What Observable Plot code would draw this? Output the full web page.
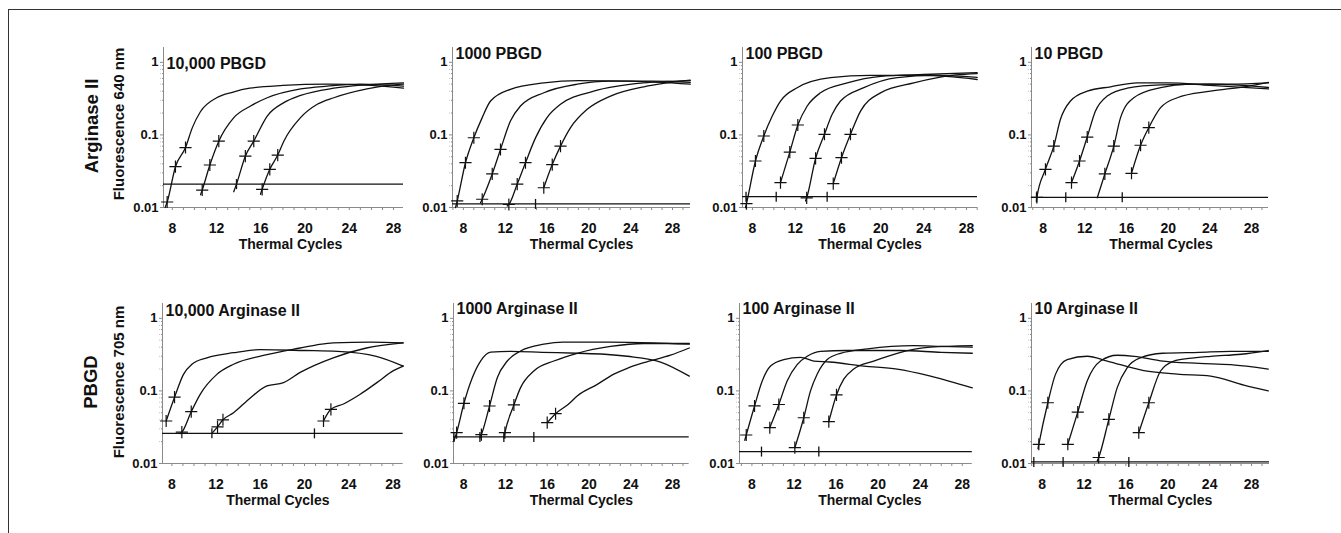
<!DOCTYPE html>
<html>
<head>
<meta charset="utf-8">
<script src="https://cdn.jsdelivr.net/npm/d3@7"></script>
<script src="https://cdn.jsdelivr.net/npm/@observablehq/plot@0.6"></script>
<style>
  html, body { margin: 0; padding: 0; background: #fff; }
  #root { position: relative; width: 1341px; height: 533px; overflow: hidden; font-family: "Liberation Sans", Arial, sans-serif; color: #111; }
  .frame { position: absolute; left: 8px; top: 9px; right: -5px; bottom: -5px; border-left: 1.5px solid #333; border-top: 1.5px solid #333; }
  .rot { position: absolute; transform: translate(-50%, -50%) rotate(-90deg); white-space: nowrap; font-weight: bold; }
  .panel { position: absolute; }
</style>
</head>
<body>
<div id="root"><div class="frame"></div></div>
<script>
// ---------------- data ----------------
const titles = ["10,000 PBGD", "1000 PBGD", "100 PBGD", "10 PBGD",
                "10,000 Arginase II", "1000 Arginase II", "100 Arginase II", "10 Arginase II"];
const rowLabels = ["Arginase II", "PBGD"];
const yAxisLabels = ["Fluorescence 640 nm", "Fluorescence 705 nm"];
const xAxisLabel = "Thermal Cycles";
const xTicks = [8, 12, 16, 20, 24, 28];
const yTicks = [0.01, 0.1, 1];
const yTickLabels = ["0.01", "0.1", "1"];
const thresholds = [0.021, 0.0112, 0.0141, 0.0138, 0.026, 0.0232, 0.0146, 0.0105];

// top row: Arginase II detection (640 nm)
const pbgd10000Lines = [
  [[7.35,0.0100],[7.53,0.0119],[8.28,0.0365],[9.19,0.067],[9.8,0.125],[10.55,0.21],[12,0.325],[13.5,0.39],[15,0.44],[18,0.48],[22,0.50],[26,0.48],[28.9,0.44]],
  [[10.55,0.015],[10.7,0.0174],[11.39,0.0385],[12.2,0.082],[13.56,0.173],[15.07,0.25],[16.58,0.325],[19.6,0.43],[22,0.47],[25,0.50],[28.9,0.47]],
  [[13.55,0.0165],[13.8,0.021],[14.6,0.051],[15.36,0.082],[16.58,0.182],[18.08,0.278],[19.6,0.35],[22.6,0.44],[25.5,0.49],[28.9,0.52]],
  [[15.97,0.0152],[16.12,0.0178],[16.81,0.0336],[17.53,0.0528],[18.08,0.082],[19.59,0.173],[21.1,0.264],[22.6,0.325],[25.6,0.43],[27.5,0.48],[28.9,0.50]]
];
const pbgd10000Crosses = [[7.53,0.0119],[8.28,0.0365],[9.19,0.067],[10.7,0.0174],[11.39,0.0385],[12.2,0.082],[14.6,0.051],[15.36,0.082],[16.12,0.0178],[16.81,0.0336],[17.53,0.0528]];
const pbgd10000Marks = [13.8];

const pbgd1000Lines = [
  [[7.25,0.0100],[7.41,0.0123],[8.2,0.0414],[9.0,0.0914],[9.8,0.173],[10.6,0.293],[12.5,0.425],[15.7,0.52],[19,0.56],[24,0.55],[29.7,0.50]],
  [[9.64,0.0116],[9.8,0.013],[10.76,0.029],[11.55,0.063],[12.5,0.155],[13.46,0.25],[15.7,0.381],[18.9,0.50],[22,0.55],[26,0.55],[29.7,0.53]],
  [[12.19,0.0105],[12.35,0.011],[13.15,0.021],[13.94,0.0414],[14.9,0.091],[16.0,0.173],[17.29,0.264],[20.47,0.40],[25.2,0.52],[29.7,0.56]],
  [[15.69,0.0187],[16.5,0.039],[17.29,0.070],[18.25,0.126],[19.84,0.225],[22.07,0.343],[25.26,0.46],[27.5,0.52],[29.7,0.57]]
];
const pbgd1000Crosses = [[7.41,0.0123],[8.2,0.0414],[9.0,0.0914],[9.8,0.013],[10.76,0.029],[11.55,0.063],[12.35,0.011],[13.15,0.021],[13.94,0.0414],[15.69,0.0187],[16.5,0.039],[17.29,0.070]];
const pbgd1000Marks = [14.9];

const pbgd100Lines = [
  [[7.35,0.0100],[7.44,0.0113],[8.28,0.0437],[9.06,0.0966],[9.85,0.182],[10.62,0.293],[12.18,0.447],[15.3,0.614],[19,0.66],[24,0.66],[29.0,0.58]],
  [[10.62,0.022],[11.49,0.058],[12.24,0.137],[13.12,0.25],[14.36,0.38],[16.86,0.52],[20,0.64],[24,0.68],[29.0,0.72]],
  [[12.96,0.0123],[13.07,0.0136],[13.9,0.0476],[14.73,0.102],[15.45,0.192],[16.23,0.293],[18.41,0.447],[21.53,0.614],[25,0.66],[29.0,0.62]],
  [[15.55,0.0213],[16.32,0.0485],[17.16,0.102],[18.1,0.213],[19.97,0.38],[23.08,0.52],[25.3,0.614],[27,0.67],[29.0,0.70]]
];
const pbgd100Crosses = [[7.44,0.0113],[8.28,0.0437],[9.06,0.0966],[10.62,0.022],[11.49,0.058],[12.24,0.137],[13.07,0.0136],[13.9,0.0476],[14.73,0.102],[15.55,0.0213],[16.32,0.0485],[17.16,0.102]];
const pbgd100Marks = [7.4, 10.22, 14.98];

const pbgd10Lines = [
  [[7.36,0.0123],[7.4,0.0138],[8.22,0.0336],[9.02,0.070],[9.66,0.164],[10.62,0.293],[12.23,0.40],[14.47,0.46],[17.03,0.52],[20,0.52],[24,0.48],[29.63,0.43]],
  [[10.72,0.022],[11.49,0.0437],[12.23,0.0935],[13.02,0.213],[14.15,0.343],[16.07,0.44],[19.27,0.49],[24,0.50],[29.63,0.45]],
  [[13.19,0.0136],[13.92,0.029],[14.78,0.070],[15.43,0.173],[16.7,0.325],[19.27,0.447],[22,0.50],[26,0.50],[29.63,0.52]],
  [[16.48,0.0296],[17.35,0.072],[18.14,0.126],[19.27,0.237],[20.87,0.325],[24.07,0.40],[27.27,0.46],[29.63,0.53]]
];
const pbgd10Crosses = [[7.4,0.0138],[8.22,0.0336],[9.02,0.070],[10.72,0.022],[11.49,0.0437],[12.23,0.0935],[13.92,0.029],[14.78,0.070],[16.48,0.0296],[17.35,0.072],[18.14,0.126]];
const pbgd10Marks = [7.36, 10.17, 15.59];

// bottom row: PBGD detection (705 nm)
const arg10000Lines = [
  [[7.48,0.0385],[8.24,0.082],[9.05,0.169],[9.81,0.233],[11.17,0.286],[13.58,0.336],[16,0.37],[20,0.36],[23,0.35],[26.5,0.30],[28.93,0.22]],
  [[8.75,0.0258],[8.9,0.027],[9.75,0.0517],[10.56,0.0898],[12.07,0.169],[13.58,0.233],[16.6,0.315],[19.61,0.39],[21.1,0.43],[22.6,0.46],[26,0.47],[28.93,0.46]],
  [[11.62,0.026],[12.13,0.032],[12.62,0.040],[13.58,0.050],[15.09,0.080],[16.6,0.117],[18.1,0.13],[19.61,0.18],[22.6,0.286],[25.6,0.39],[28.93,0.46]],
  [[21.72,0.0385],[22.39,0.0557],[23.53,0.066],[25.04,0.0898],[26.55,0.13],[28.05,0.19],[28.93,0.22]]
];
const arg10000Crosses = [[7.48,0.0385],[8.24,0.082],[8.9,0.027],[9.75,0.0517],[12.13,0.032],[12.62,0.040],[21.72,0.0385],[22.39,0.0557]];
const arg10000Marks = [11.62, 20.9];

const arg1000Lines = [
  [[7.07,0.0204],[7.33,0.0266],[8.03,0.0675],[8.83,0.152],[9.62,0.258],[10.58,0.343],[12.5,0.35],[15.5,0.34],[18.9,0.33],[21.5,0.32],[23.66,0.30],[26.85,0.25],[29.6,0.16]],
  [[9.56,0.0225],[9.7,0.025],[10.48,0.0619],[11.22,0.152],[12.18,0.258],[13.45,0.355],[15.68,0.44],[17.5,0.47],[22,0.47],[26,0.46],[29.6,0.44]],
  [[11.85,0.0225],[11.95,0.0266],[12.81,0.064],[13.45,0.111],[14.72,0.188],[16.64,0.258],[18.87,0.33],[22.06,0.41],[25.25,0.45],[29.6,0.45]],
  [[16.0,0.0365],[16.8,0.0485],[18.0,0.065],[18.87,0.085],[20.79,0.123],[22.38,0.170],[23.66,0.205],[25.25,0.245],[27.8,0.31],[29.6,0.39]]
];
const arg1000Crosses = [[7.33,0.0266],[8.03,0.0675],[9.7,0.025],[10.48,0.0619],[11.95,0.0266],[12.81,0.064],[16.0,0.0365],[16.8,0.0485]];
const arg1000Marks = [7.07, 9.56, 11.85, 14.72];

const arg100Lines = [
  [[7.32,0.0209],[7.46,0.0247],[8.25,0.062],[8.98,0.137],[9.77,0.22],[11.03,0.27],[12.62,0.29],[13.88,0.258],[15.4,0.25],[18.64,0.22],[21.81,0.20],[24.98,0.16],[28.95,0.11]],
  [[9.7,0.0311],[10.56,0.065],[11.35,0.137],[12.3,0.23],[13.26,0.30],[14.52,0.35],[17,0.36],[22,0.36],[26,0.34],[28.95,0.33]],
  [[12.08,0.0165],[12.93,0.0427],[13.57,0.10],[14.2,0.17],[15.16,0.27],[16.42,0.33],[19,0.38],[23.4,0.42],[26,0.41],[28.95,0.40]],
  [[15.31,0.0377],[16.04,0.088],[16.73,0.145],[17.68,0.20],[19.58,0.258],[21.81,0.33],[24.98,0.40],[28.95,0.42]]
];
const arg100Crosses = [[7.46,0.0247],[8.25,0.062],[9.7,0.0311],[10.56,0.065],[12.08,0.0165],[12.93,0.0427],[15.31,0.0377],[16.04,0.088]];
const arg100Marks = [8.91, 14.36];

const arg10Lines = [
  [[7.6,0.016],[7.68,0.0184],[8.54,0.0687],[9.27,0.169],[10.39,0.27],[12.3,0.30],[14.21,0.258],[17.71,0.19],[20.9,0.17],[24.1,0.16],[27.27,0.12],[29.6,0.10]],
  [[10.45,0.0184],[11.4,0.051],[12.3,0.137],[13.57,0.258],[15.17,0.31],[16.8,0.30],[19.3,0.26],[23,0.24],[26,0.23],[29.6,0.20]],
  [[13.26,0.0108],[13.4,0.0121],[14.37,0.0406],[15.17,0.111],[16.13,0.209],[17.4,0.286],[19.5,0.33],[23,0.34],[26,0.35],[29.6,0.35]],
  [[17.23,0.0266],[18.19,0.0687],[19.31,0.188],[20.58,0.258],[22,0.28],[24.1,0.30],[27,0.32],[29.6,0.36]]
];
const arg10Crosses = [[7.68,0.0184],[8.54,0.0687],[10.45,0.0184],[11.4,0.051],[13.4,0.0121],[14.37,0.0406],[17.23,0.0266],[18.19,0.0687]];
const arg10Marks = [7.2, 10.0, 16.28];

// ---------------- layout (positions / styles only) ----------------
const layout = [
  {left: 163,   top: 46.5,  w: 240,   xd: [7.2, 28.9],   labelDx: 7,  titleDy: 10},
  {left: 452,   top: 46.5,  w: 238,   xd: [6.96, 29.72], labelDx: 10, titleDy: 0},
  {left: 742,   top: 46.5,  w: 235,   xd: [7.07, 29.03], labelDx: 10, titleDy: 0},
  {left: 1031,  top: 46.5,  w: 237,   xd: [6.88, 29.63], labelDx: 11, titleDy: 0},
  {left: 162.3, top: 302.5, w: 240.7, xd: [7.15, 28.93], labelDx: -5, titleDy: 1},
  {left: 452.9, top: 302.5, w: 235.7, xd: [7.03, 29.59], labelDx: 10, titleDy: -1},
  {left: 739,   top: 302.5, w: 232.8, xd: [6.82, 28.95], labelDx: 14, titleDy: -1},
  {left: 1031,  top: 302.5, w: 238,   xd: [6.98, 29.72], labelDx: 10, titleDy: -1}
];
const panelData = [
  [pbgd10000Lines, pbgd10000Crosses, pbgd10000Marks],
  [pbgd1000Lines, pbgd1000Crosses, pbgd1000Marks],
  [pbgd100Lines, pbgd100Crosses, pbgd100Marks],
  [pbgd10Lines, pbgd10Crosses, pbgd10Marks],
  [arg10000Lines, arg10000Crosses, arg10000Marks],
  [arg1000Lines, arg1000Crosses, arg1000Marks],
  [arg100Lines, arg100Crosses, arg100Marks],
  [arg10Lines, arg10Crosses, arg10Marks]
];

const FONT = '"Liberation Sans", Arial, Helvetica, sans-serif';
const INK = "#111";
const AXIS = "#8a8a8a";
const ML = 52, MR = 8, MT = 6, MB = 60, FH = 160;
const Y_DOMAIN = [0.01, 1.6];

// minor log ticks (2..9 × 10^k)
const yMinor = [];
for (const base of [0.01, 0.1]) for (let k = 2; k <= 9; k++) yMinor.push(+(base * k).toFixed(3));

const vbar = {
  draw(ctx, size) { const r = Math.sqrt(size / Math.PI); ctx.moveTo(0, -r); ctx.lineTo(0, r); }
};

const root = document.getElementById("root");

panelData.forEach(([lines, crosses, marks], i) => {
  const L = layout[i];
  const rows = lines.flatMap((curve, s) => curve.map(([c, v]) => ({s, c, v})));
  const thr = thresholds[i];
  const markRows = marks.map(c => ({c, v: thr}));
  const xMinor = d3.range(Math.ceil(L.xd[0]), Math.floor(L.xd[1]) + 1);

  const chart = Plot.plot({
    width: ML + L.w + MR,
    height: MT + FH + MB,
    marginLeft: ML, marginRight: MR, marginTop: MT, marginBottom: MB,
    x: {domain: L.xd},
    y: {type: "log", domain: Y_DOMAIN},
    style: {background: "transparent", fontFamily: FONT, fontWeight: "bold", color: INK, overflow: "visible"},
    marks: [
      Plot.ruleX([L.xd[0]], {stroke: AXIS, strokeWidth: 1}),
      Plot.ruleY([Y_DOMAIN[0]], {stroke: AXIS, strokeWidth: 1}),
      Plot.axisY({ticks: yMinor, tickSize: 2.5, tickFormat: () => "", label: null, stroke: AXIS, strokeDasharray: "1,1"}),
      Plot.axisX({ticks: xMinor, tickSize: 3, tickFormat: () => "", label: null, stroke: AXIS}),
      Plot.axisY({ticks: yTicks, tickSize: 3, tickPadding: 2, tickFormat: d => yTickLabels[yTicks.indexOf(d)],
                  label: null, stroke: AXIS, fill: INK, fontSize: 13, fontWeight: "bold"}),
      Plot.axisX({ticks: xTicks, tickSize: 0, tickPadding: 16, tickFormat: d => String(d),
                  label: null, fill: INK, fontSize: 14, fontWeight: "bold"}),
      Plot.ruleY([thr], {stroke: INK, strokeWidth: 1.3}),
      Plot.dot(markRows, {x: "c", y: "v", symbol: vbar, r: 5, stroke: INK, fill: "none", strokeWidth: 1.3}),
      Plot.line(rows, {x: "c", y: "v", z: "s", curve: "monotone-x", stroke: INK, strokeWidth: 1.3}),
      Plot.dot(crosses, {x: d => d[0], y: d => d[1], symbol: "plus", r: 4, stroke: INK, strokeWidth: 1.2}),
      Plot.text([titles[i]], {frameAnchor: "top-left", dx: 3, dy: L.titleDy, lineAnchor: "top", textAnchor: "start",
                              fontSize: 16, fontWeight: "bold", fill: INK}),
      Plot.text([xAxisLabel], {frameAnchor: "bottom", dx: L.labelDx, dy: 32, lineAnchor: "top",
                               fontSize: 14, fontWeight: "bold", fill: INK})
    ]
  });
  const wrap = document.createElement("div");
  wrap.className = "panel";
  wrap.style.left = (L.left - ML) + "px";
  wrap.style.top = (L.top - MT) + "px";
  wrap.appendChild(chart);
  root.appendChild(wrap);
});

const sideText = [
  {text: rowLabels[0], x: 91.5, y: 126, size: 18.5},
  {text: yAxisLabels[0], x: 117.5, y: 123.5, size: 15},
  {text: rowLabels[1], x: 91, y: 381.5, size: 18.5},
  {text: yAxisLabels[1], x: 117.5, y: 381.5, size: 15}
];
sideText.forEach(t => {
  const d = document.createElement("div");
  d.className = "rot";
  d.textContent = t.text;
  d.style.left = t.x + "px";
  d.style.top = t.y + "px";
  d.style.fontSize = t.size + "px";
  root.appendChild(d);
});
</script>
</body>
</html>
